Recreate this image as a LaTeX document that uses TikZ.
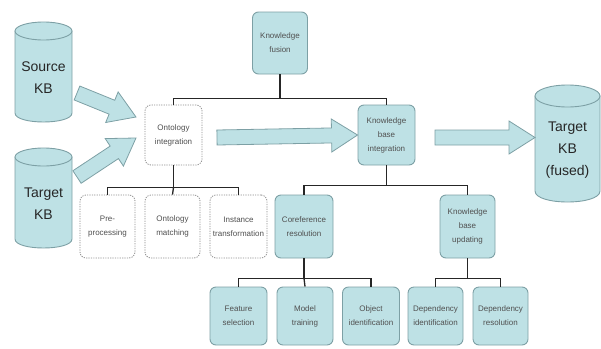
\documentclass[tikz,border=0pt]{standalone}
\usepackage{fontspec}
\setmainfont{Liberation Sans}
\usetikzlibrary{calc}
\definecolor{tealfill}{RGB}{190,225,229}
\definecolor{tealdraw}{RGB}{125,160,165}
\definecolor{txtgray}{RGB}{80,80,80}
\definecolor{dotgray}{RGB}{140,140,140}
\newcommand{\fatarrow}[3]{% start, end, name prefix
  \coordinate (#3c) at ($(#2)!26pt!(#1)$);
  \filldraw[fill=tealfill,draw=tealdraw,line width=0.8pt,line join=miter]
    ($(#1)!7.5pt!90:(#2)$) -- ($(#3c)!7.5pt!90:(#2)$) -- ($(#3c)!16.5pt!90:(#2)$)
    -- (#2) -- ($(#3c)!16.5pt!-90:(#2)$) -- ($(#3c)!7.5pt!-90:(#2)$)
    -- ($(#1)!7.5pt!-90:(#2)$) -- cycle;}
\newcommand{\kbcyl}[5]{% x1,y1,x2,y2,ry
  \filldraw[fill=tealfill,draw=tealdraw,line width=0.9pt]
    (#1,#2+#5) -- (#1,#4-#5) .. controls (#1,#4+0.333*#5) and (#3,#4+0.333*#5) .. (#3,#4-#5) -- (#3,#2+#5) -- cycle;
  \filldraw[fill=tealfill,draw=tealdraw,line width=0.9pt]
    ({(#1+#3)/2},#2+#5) ellipse [x radius={(#3-#1)/2}, y radius=#5];}
\tikzset{
  boxtext/.style={font=\fontsize{8}{14}\selectfont, text=txtgray, align=center, inner sep=1pt},
  tealbox/.style={boxtext, rectangle, rounded corners=6pt, fill=tealfill, draw=tealdraw, line width=0.9pt},
  dotbox/.style={boxtext, rectangle, rounded corners=6pt, fill=white, draw=dotgray, dash pattern=on 1.2pt off 1.2pt, line width=0.8pt},
  cyltext/.style={font=\fontsize{14}{22}\selectfont, text=black!85, align=center},
  tree/.style={draw=black!85, line width=1.3pt}
}
\begin{document}
\begin{tikzpicture}[x=1pt,y=-1pt]
\useasboundingbox (0,0) rectangle (601,348);
% cylinders
\kbcyl{15}{22}{72}{122}{9}
\node[cyltext] (src) at (43.5,78) {Source\\KB};
\kbcyl{15}{148}{72}{248}{9}
\node[cyltext] (tgt) at (43.5,204) {Target\\KB};
\kbcyl{535}{85}{600}{202}{11}
\node[cyltext] (fused) at (567.5,150) {Target\\KB\\(fused)};
% boxes
\node[tealbox, minimum width=55pt, minimum height=62pt] (kf) at (280,43) {Knowledge\\ fusion};
\node[dotbox, minimum width=57pt, minimum height=60pt] (oi) at (173.5,135) {Ontology\\integration};
\node[tealbox, minimum width=57pt, minimum height=60pt] (kbi) at (386.5,135) {Knowledge\\base\\integration};
\node[dotbox, minimum width=55pt, minimum height=63pt] (pre) at (107.5,226.5) {Pre-\\processing};
\node[dotbox, minimum width=55pt, minimum height=63pt] (om) at (172.5,226.5) {Ontology\\matching};
\node[dotbox, minimum width=57pt, minimum height=63pt] (it) at (238.5,226.5) {Instance\\transformation};
\node[tealbox, minimum width=58pt, minimum height=63pt] (cr) at (304,226.5) {Coreference\\resolution};
\node[tealbox, minimum width=55pt, minimum height=63pt] (kbu) at (467.5,226.5) {Knowledge\\base\\updating};
\node[tealbox, minimum width=57pt, minimum height=58pt] (fs) at (238.5,316) {Feature\\selection};
\node[tealbox, minimum width=56pt, minimum height=58pt] (mt) at (305,316) {Model\\training};
\node[tealbox, minimum width=57pt, minimum height=58pt] (oid) at (371,316) {Object\\identification};
\node[tealbox, minimum width=55pt, minimum height=58pt] (di) at (435.5,316) {Dependency\\identification};
\node[tealbox, minimum width=55pt, minimum height=58pt] (dr) at (500.5,316) {Dependency\\resolution};
% tree lines
\draw[tree] (kf.south) -- ++(0,24) coordinate (j1);
\draw[tree] (j1) -| (oi.north);
\draw[tree] (j1) -| (kbi.north);
\draw[tree] (oi.south) -- ++(0,22) coordinate (j2);
\draw[tree] (j2) -| (pre.north);
\draw[tree] (j2) -| (it.north);
\draw[tree] (j2) -- (om.north);
\draw[tree] (kbi.south) -- ++(0,20) coordinate (j3);
\draw[tree] (j3) -| (cr.north);
\draw[tree] (j3) -| (kbu.north);
\draw[tree] (cr.south) -- ++(0,20) coordinate (j4);
\draw[tree] (j4) -| (fs.north);
\draw[tree] (j4) -| (oid.north);
\draw[tree] (j4) -- (mt.north);
\draw[tree] (kbu.south) -- ++(0,20) coordinate (j5);
\draw[tree] (j5) -| (di.north);
\draw[tree] (j5) -| (dr.north);
% big arrows
\coordinate (a1s) at (77,93);
\coordinate (a1e) at (136,117);
\coordinate (a2s) at (77,177);
\coordinate (a2e) at (136,138);
\coordinate (a3s) at (217,137.5);
\coordinate (a3e) at (kbi.west);
\coordinate (a4s) at (435,137.5);
\coordinate (a4e) at (535,137.5);
\fatarrow{a1s}{a1e}{ar1}
\fatarrow{a2s}{a2e}{ar2}
\fatarrow{a3s}{a3e}{ar3}
\fatarrow{a4s}{a4e}{ar4}
\end{tikzpicture}
\end{document}
